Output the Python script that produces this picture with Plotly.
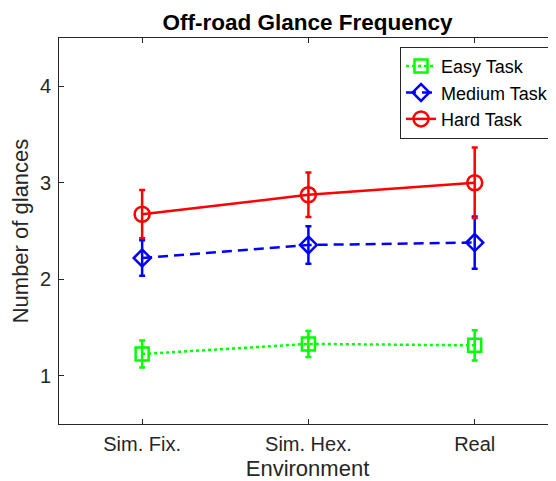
import plotly.graph_objects as go

environments = ["Sim. Fix.", "Sim. Hex.", "Real"]
x_pos = [1, 2, 3]

easy_mean = [1.225, 1.33, 1.315]
easy_err = [0.14, 0.135, 0.157]
medium_mean = [2.22, 2.355, 2.38]
medium_err = [0.185, 0.195, 0.27]
hard_mean = [2.674, 2.875, 3.0]
hard_err = [0.25, 0.23, 0.365]

y_ticks = [1, 2, 3, 4]

FONT = "Liberation Sans, Arial, Helvetica, sans-serif"
AX = "#262626"

series = [
    ("Easy Task", easy_mean, easy_err, "#00FF00", "dot", "square-open", 13),
    ("Medium Task", medium_mean, medium_err, "#0000FF", "10px,6px", "diamond-open", 13),
    ("Hard Task", hard_mean, hard_err, "#FF0000", "solid", "circle-open", 15),
]

fig = go.Figure()
for name, mean, err, color, dash, symbol, size in series:
    fig.add_trace(go.Scatter(
        x=x_pos, y=mean, name=name, mode="lines+markers",
        line=dict(color=color, width=2.5, dash=dash),
        marker=dict(symbol=symbol, size=size, color=color,
                    line=dict(color=color, width=2.5)),
        error_y=dict(type="data", array=err, visible=True,
                     color=color, thickness=2.5, width=3),
    ))

# the page body adds an 8px offset on the left and top
fig.update_layout(
    width=548, height=473,
    margin=dict(l=51, r=0, t=30, b=57),
    paper_bgcolor="white", plot_bgcolor="white",
    font=dict(family=FONT, color=AX, size=20),
    title=dict(text="<b>Off-road Glance Frequency</b>", x=0.5, xref="paper",
               xanchor="center", y=1, yref="paper", yanchor="bottom",
               pad=dict(b=8),
               font=dict(size=22.5, color="black", family=FONT)),
    showlegend=True,
    legend=dict(x=0.996, xanchor="right", y=0.977, yanchor="top",
                bordercolor=AX, borderwidth=1, bgcolor="white",
                font=dict(size=18, color="black", family=FONT),
                tracegroupgap=0, itemwidth=30),
    xaxis=dict(range=[0.5, 3.489], tickvals=x_pos, ticktext=environments,
               showline=True, linecolor=AX, linewidth=1, mirror="ticks",
               ticks="inside", ticklen=5, tickcolor=AX, showgrid=False,
               zeroline=False, tickfont=dict(size=20, color=AX),
               ticklabelstandoff=2,
               title=dict(text="Environment", font=dict(size=22, color=AX),
                          standoff=10)),
    yaxis=dict(range=[0.5, 4.5], tickvals=y_ticks,
               showline=True, linecolor=AX, linewidth=1, mirror=False,
               ticks="inside", ticklen=5, tickcolor=AX, showgrid=False,
               zeroline=False, tickfont=dict(size=20, color=AX),
               ticklabelstandoff=3,
               title=dict(text="Number of glances", font=dict(size=22, color=AX),
                          standoff=6)),
    yaxis2=dict(range=[0.5, 4.5], tickvals=y_ticks, overlaying="y", side="right",
                anchor="x", showline=False, ticks="inside", ticklen=5,
                tickcolor=AX, showticklabels=False, showgrid=False,
                zeroline=False),
)

fig.write_html("out.html")
